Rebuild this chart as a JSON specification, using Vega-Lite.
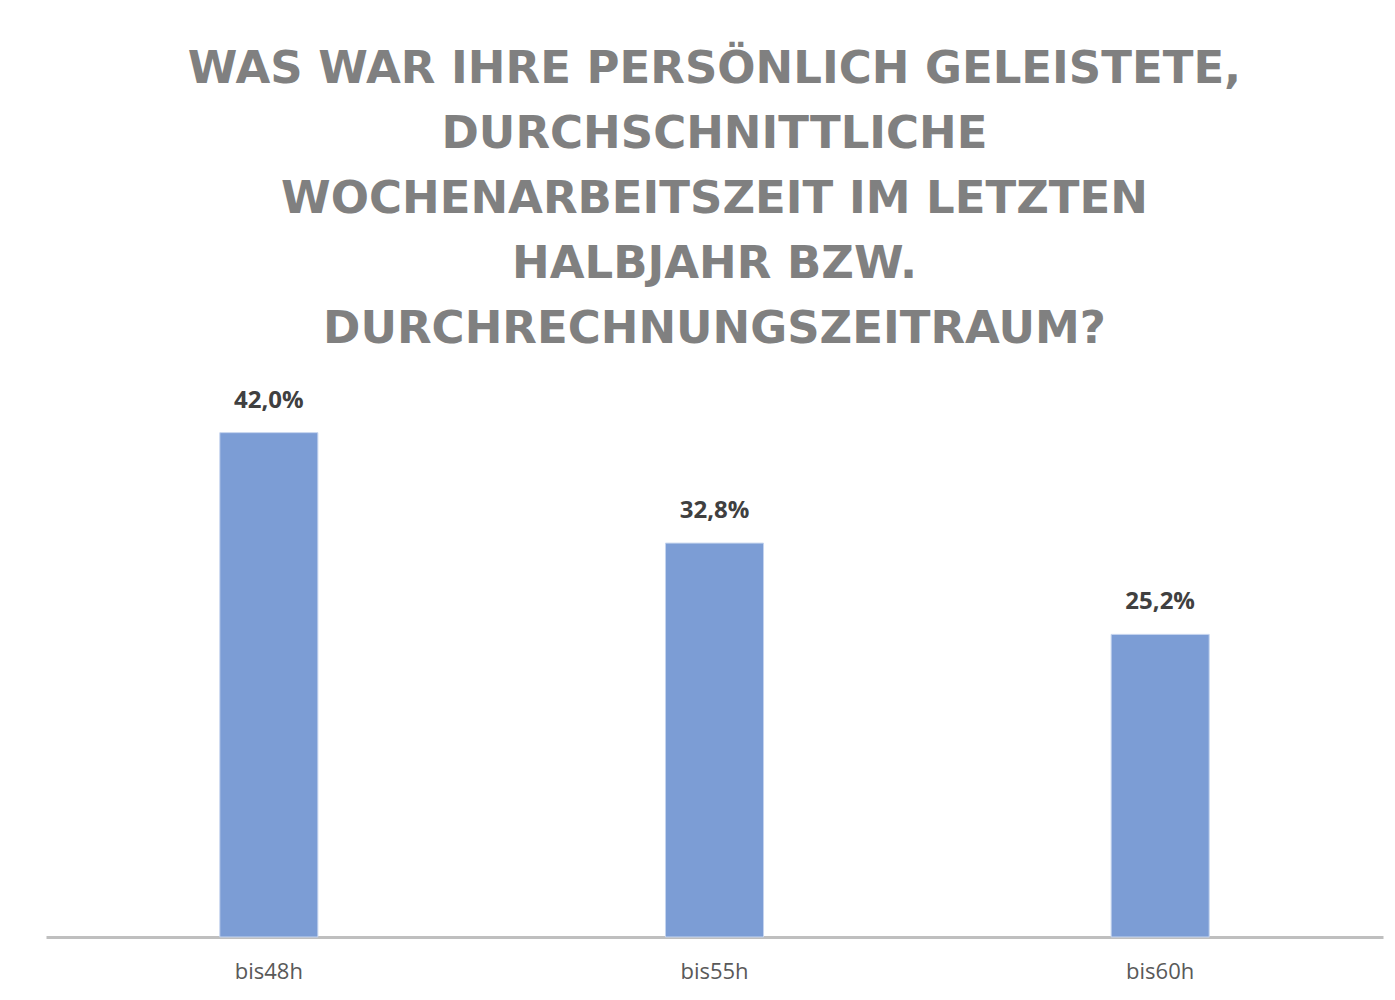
{
  "$schema": "https://vega.github.io/schema/vega-lite/v6.json",
  "width": 1337,
  "height": 568,
  "padding": {"left": 46, "top": 47, "right": 12, "bottom": 10},
  "autosize": {"type": "pad"},
  "background": "white",
  "title": {
    "text": ["WAS WAR IHRE PERSÖNLICH GELEISTETE,", "DURCHSCHNITTLICHE", "WOCHENARBEITSZEIT IM LETZTEN", "HALBJAHR BZW.", "DURCHRECHNUNGSZEITRAUM?"],
    "font": "DejaVu Sans",
    "fontSize": 45,
    "fontWeight": "bold",
    "color": "#808080",
    "lineHeight": 65,
    "anchor": "middle",
    "offset": 17
  },
  "config": {"view": {"stroke": null}},
  "data": {
    "values": [
      {"kategorie": "bis48h", "wert": 42.0, "label": "42,0%"},
      {"kategorie": "bis55h", "wert": 32.8, "label": "32,8%"},
      {"kategorie": "bis60h", "wert": 25.2, "label": "25,2%"}
    ]
  },
  "encoding": {
    "x": {
      "field": "kategorie",
      "type": "nominal",
      "sort": null,
      "scale": {"paddingInner": 0.78, "paddingOuter": 0.39},
      "axis": {
        "title": null,
        "labelAngle": 0,
        "labelFont": "Open Sans",
        "labelFontSize": 22,
        "labelColor": "#595959",
        "labelPadding": 24,
        "ticks": false,
        "domainColor": "#bfbfbf",
        "domainWidth": 3
      }
    },
    "y": {
      "field": "wert",
      "type": "quantitative",
      "scale": {"domain": [0, 47.3]},
      "axis": null
    }
  },
  "layer": [
    {
      "mark": {"type": "bar", "color": "#7c9dd5", "stroke": "#c5d4ee", "strokeWidth": 1}
    },
    {
      "mark": {"type": "text", "baseline": "bottom", "dy": -20, "font": "Open Sans", "fontSize": 24, "fontWeight": "bold", "color": "#404040"},
      "encoding": {"text": {"field": "label"}}
    }
  ]
}
